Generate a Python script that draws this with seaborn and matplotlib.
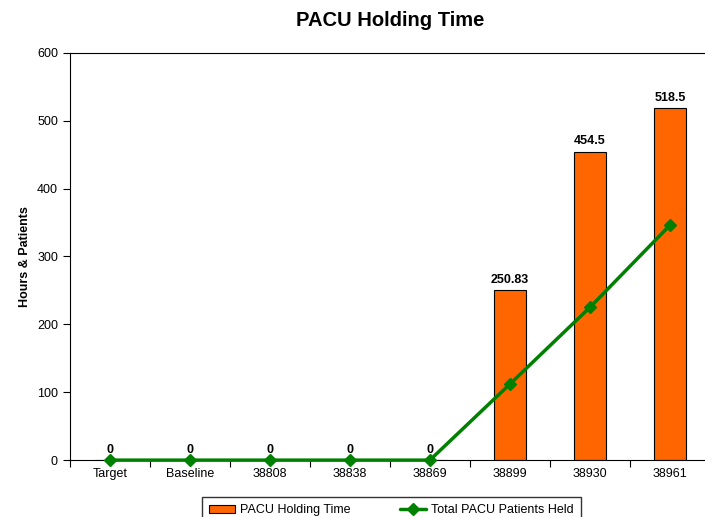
"""
PACU holding time: bars for hours held, line for total patients held.
"""
import numpy as np
import pandas as pd
import matplotlib
matplotlib.use("Agg")
import matplotlib.pyplot as plt
import seaborn as sns

categories = ["Target", "Baseline", "38808", "38838", "38869", "38899", "38930", "38961"]
holding_hours = [0, 0, 0, 0, 0, 250.83, 454.5, 518.5]
patients_held = [0, 0, 0, 0, 0, 112, 225, 346]
y_ticks = [0, 100, 200, 300, 400, 500, 600]

BAR_COLOR = "#FF6600"
LINE_COLOR = "#008000"

sns.set_style("ticks")
plt.rcParams["font.family"] = ["Liberation Sans", "DejaVu Sans"]
plt.rcParams.update({"font.size": 9, "text.color": "black", "axes.labelcolor": "black",
                     "xtick.color": "black", "ytick.color": "black"})

df = pd.DataFrame({"category": categories, "hours": holding_hours, "patients": patients_held})

fig = plt.figure(figsize=(7.05, 5.17), dpi=100)
ax = fig.add_axes([0.099, 0.110, 0.908, 0.788])

sns.barplot(data=df, x="category", y="hours", ax=ax, color=BAR_COLOR,
            edgecolor="black", linewidth=0.8, width=0.4, saturation=1,
            label="PACU Holding Time")
ax.bar_label(ax.containers[0], fmt="%g", padding=3, fontweight="bold", fontsize=9)

xs = np.arange(len(categories))
ax.plot(xs, df["patients"], color=LINE_COLOR, lw=2.5, marker="D", markersize=6,
        label="Total PACU Patients Held", zorder=4, clip_on=False)

ax.set_ylim(0, 600)
ax.set_yticks(y_ticks)
ax.set_xlim(-0.5, len(categories) - 0.5)
ax.set_title("PACU Holding Time", fontsize=14.5, fontweight="bold", pad=19)
ax.set_ylabel("Hours & Patients", fontsize=9, fontweight="bold", labelpad=4)
ax.set_xlabel("")

# category ticks sit between bars
ax.set_xticks(xs)
ax.set_xticklabels(categories)
ax.tick_params(axis="x", which="major", length=0, pad=6)
ax.set_xticks(np.arange(-0.5, len(categories)), minor=True)
ax.tick_params(axis="x", which="minor", length=5, width=0.8, direction="out")
ax.tick_params(axis="y", length=5, width=0.8, direction="out")

for side in ["top", "left", "bottom", "right"]:
    ax.spines[side].set_visible(True)
    ax.spines[side].set_color("black")
    ax.spines[side].set_linewidth(0.8)

handles, labels = ax.get_legend_handles_labels()
if ax.get_legend() is not None:
    ax.get_legend().remove()
order = [labels.index("PACU Holding Time"), labels.index("Total PACU Patients Held")]
fig.legend([handles[i] for i in order], [labels[i] for i in order],
           loc="upper center", bbox_to_anchor=(0.555, 0.039), ncol=2,
           frameon=True, fancybox=False, edgecolor="black", fontsize=9,
           handlelength=2.1, handletextpad=0.4, columnspacing=3.9,
           borderpad=0.6, borderaxespad=0)

fig.savefig("out.png", dpi=100, facecolor="white")
